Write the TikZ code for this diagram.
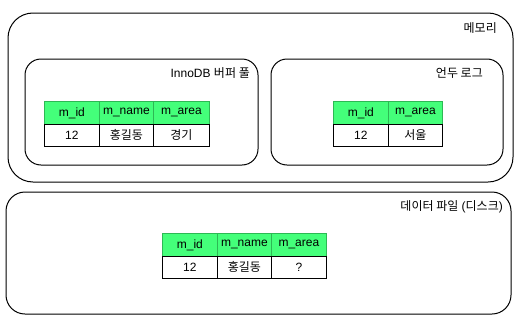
\documentclass[tikz,border=0pt]{standalone}
\usepackage{fontspec}
\setmainfont{Liberation Sans}
\newfontfamily\cjk{Noto Sans CJK KR}
\definecolor{hdrfill}{HTML}{44FF7A}
\definecolor{hdrline}{HTML}{2DB854}
\begin{document}
\begin{tikzpicture}[x=1pt,y=-1pt,
  container/.style={draw=black, line width=1pt},
  lbl/.style={anchor=east, inner sep=0pt, font=\fontsize{12}{14}\selectfont},
  hdr/.style={draw=hdrline, fill=hdrfill, line width=0.8pt, inner sep=0pt, anchor=north west, font=\fontsize{12}{14}\selectfont},
  cell/.style={draw=black, line width=0.8pt, inner sep=0pt, anchor=north west, font=\fontsize{12}{14}\selectfont}
]
\useasboundingbox (0,0) rectangle (521,324);
% containers
\draw[container, rounded corners=25pt] (8,13) rectangle (513,182);
\draw[container, rounded corners=16pt] (25,59) rectangle (258,165);
\draw[container, rounded corners=16pt] (271,59) rectangle (503,165);
\draw[container, rounded corners=19pt] (6,192) rectangle (511,314);
% labels
\node[lbl] (memlbl) at (497,28) {\cjk 메모리};
\node[lbl] (innolbl) at (250,73) {InnoDB {\cjk 버퍼 풀}};
\node[lbl] (undolbl) at (483,73) {\cjk 언두 로그};
\node[lbl] (disklbl) at (503,207) {{\cjk 데이터 파일} ({\cjk 디스크})};
% table 1 (buffer pool)
\node[hdr, minimum width=55pt, minimum height=23pt] (t1h1) at (44,101) {m\_id};
\node[hdr, minimum width=54pt, minimum height=23pt] (t1h2) at (99,101) {m\_name};
\node[hdr, minimum width=56pt, minimum height=23pt] (t1h3) at (153,101) {m\_area};
\node[cell, minimum width=55pt, minimum height=22pt] (t1c1) at (44,124) {12};
\node[cell, minimum width=54pt, minimum height=22pt] (t1c2) at (99,124) {\cjk 홍길동};
\node[cell, minimum width=56pt, minimum height=22pt] (t1c3) at (153,124) {\cjk 경기};
% table 2 (undo log)
\node[hdr, minimum width=55pt, minimum height=23pt] (t2h1) at (333,101) {m\_id};
\node[hdr, minimum width=54pt, minimum height=23pt] (t2h2) at (388,101) {m\_area};
\node[cell, minimum width=55pt, minimum height=22pt] (t2c1) at (333,124) {12};
\node[cell, minimum width=54pt, minimum height=22pt] (t2c2) at (388,124) {\cjk 서울};
% table 3 (data file)
\node[hdr, minimum width=55pt, minimum height=23pt] (t3h1) at (162,233) {m\_id};
\node[hdr, minimum width=54pt, minimum height=23pt] (t3h2) at (217,233) {m\_name};
\node[hdr, minimum width=55pt, minimum height=23pt] (t3h3) at (271,233) {m\_area};
\node[cell, minimum width=55pt, minimum height=22pt] (t3c1) at (162,256) {12};
\node[cell, minimum width=54pt, minimum height=22pt] (t3c2) at (217,256) {\cjk 홍길동};
\node[cell, minimum width=55pt, minimum height=22pt] (t3c3) at (271,256) {?};
\end{tikzpicture}
\end{document}
